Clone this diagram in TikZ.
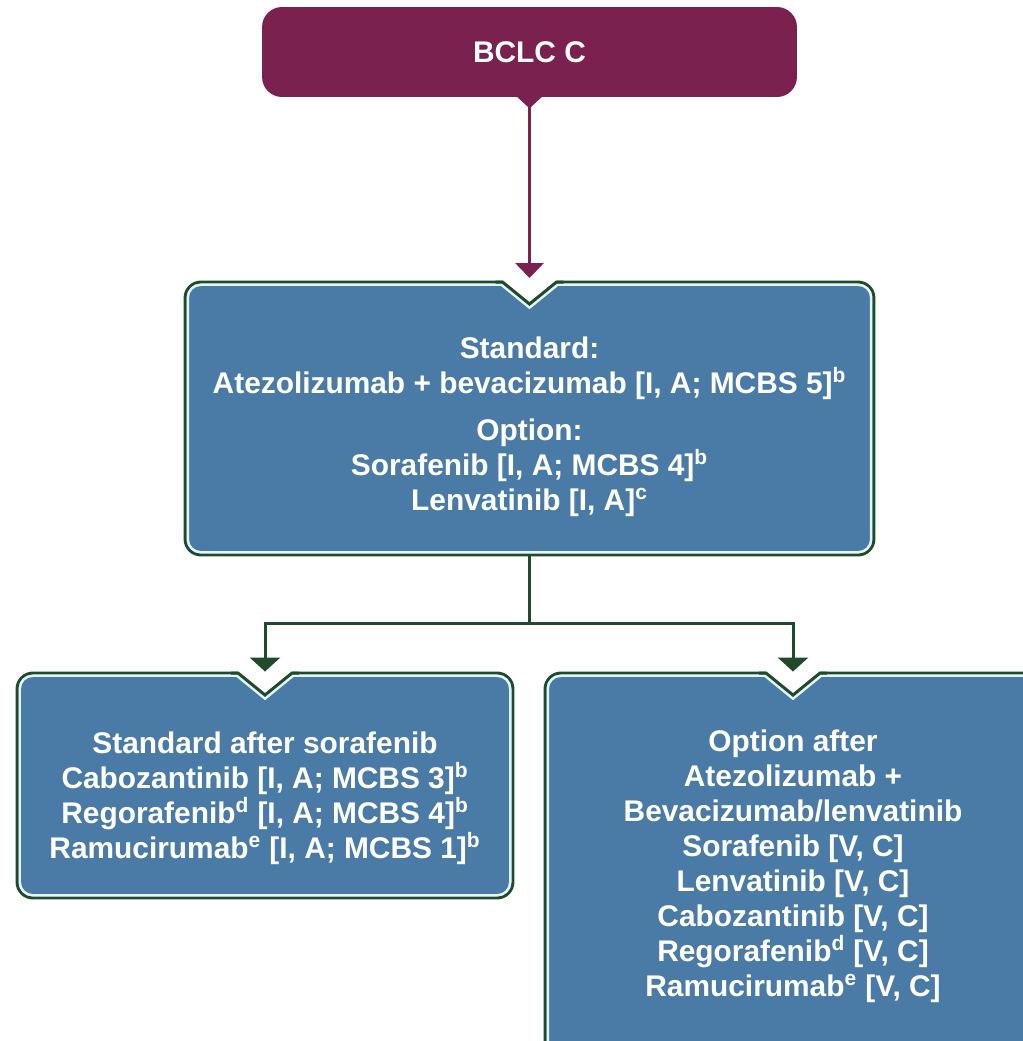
\documentclass[tikz,border=0pt]{standalone}
\usepackage{fontspec}
\setmainfont{Liberation Sans}
\usepackage{tikz}
\usetikzlibrary{calc,arrows.meta}
\definecolor{BCLCMaroon}{HTML}{7B2150}
\definecolor{PanelBlue}{HTML}{4A7BA6}
\definecolor{PanelGreen}{HTML}{1F4A2C}
\definecolor{PanelRim}{HTML}{E4F5F8}

% light rim inside the green border
\newcommand{\panelrim}[1]{%
  \draw[PanelRim, line width=0.05cm, rounded corners=0.26cm]
    ($(#1.north west)+(4.2,4.2)$) rectangle ($(#1.south east)+(-4.2,-4.2)$);}
% V notch cut into the top edge
\newcommand{\panelnotch}[1]{%
  \coordinate (nt) at ($(#1.north)+(0,1.5)$);
  \fill[white] ($(nt)+(-27,-3)$) -- ($(nt)+(27,-3)$) -- ($(nt)+(27,0)$)
    -- ($(nt)+(0,22)$) -- ($(nt)+(-27,0)$) -- cycle;
  \fill[PanelRim] ($(nt)+(-27,0)$) -- ($(nt)+(0,22)$) -- ($(nt)+(27,0)$)
    -- ($(nt)+(28.5,4)$) -- ($(nt)+(0,27.2)$) -- ($(nt)+(-28.5,4)$) -- cycle;
  \draw[PanelGreen, line width=0.06cm, line join=miter] ($(nt)+(-34,0)$) -- ($(nt)+(-27,0)$)
    -- ($(nt)+(0,22)$) -- ($(nt)+(27,0)$) -- ($(nt)+(34,0)$);}

\begin{document}
\begin{tikzpicture}[x=0.02cm, y=-0.02cm,
                    every node/.style={font=\bfseries\fontsize{17pt}{19.9pt}\selectfont,
                                       text=white, align=center},
                    stage/.style={fill=BCLCMaroon, rounded corners=0.4cm,
                                  minimum width=10.7cm, minimum height=1.8cm},
                    panel/.style={fill=PanelBlue, draw=PanelGreen, line width=0.06cm,
                                  rounded corners=0.32cm},
                    maroonline/.style={draw=BCLCMaroon, line width=0.065cm,
                                       -{Triangle[width=0.56cm, length=0.3cm]}},
                    greenline/.style={draw=PanelGreen, line width=0.06cm}]
  \useasboundingbox (0,0) rectangle (1022,1041);
  \clip (-10,-10) rectangle (1032,1051);
  \fill[white] (-10,-10) rectangle (1032,1051);

  \node[stage] (bclc) at (529.5,52) {BCLC C};
  \node[panel, minimum width=13.78cm, minimum height=5.46cm] (first) at (529.5,418.5)
    {\rule{0pt}{21.5pt}Standard:\\ Atezolizumab + bevacizumab [I, A; MCBS 5]\textsuperscript{b}\\[0.24cm]
     Option:\\ Sorafenib [I, A; MCBS 4]\textsuperscript{b}\\ Lenvatinib [I, A]\textsuperscript{c}};
  \node[panel, minimum width=9.92cm, minimum height=4.5cm] (second) at (265,785.5)
    {\rule{0pt}{27pt}Standard after sorafenib\\ Cabozantinib [I, A; MCBS 3]\textsuperscript{b}\\
     Regorafenib\textsuperscript{d} [I, A; MCBS 4]\textsuperscript{b}\\
     Ramucirumab\textsuperscript{e} [I, A; MCBS 1]\textsuperscript{b}};
  \node[panel, minimum width=9.92cm, minimum height=7.74cm] (third) at (793,866.5)
    {Option after\\ Atezolizumab +\\ Bevacizumab/lenvatinib\\ Sorafenib [V, C]\\
     Lenvatinib [V, C]\\ Cabozantinib [V, C]\\ Regorafenib\textsuperscript{d} [V, C]\\
     Ramucirumab\textsuperscript{e} [V, C]};

  \panelrim{first}
  \panelrim{second}
  \panelrim{third}
  \panelnotch{first}
  \panelnotch{second}
  \panelnotch{third}

  % pointer under the stage box
  \fill[BCLCMaroon] ($(bclc.south)+(-13,-1)$) -- ($(bclc.south)+(13,-1)$)
    -- ($(bclc.south)+(0,11)$) -- cycle;
  \draw[maroonline, shorten >=0.05cm] (bclc.south) -- (first.north);

  \coordinate (split) at (529.5,623);
  \draw[greenline] (first.south) -- (split);
  \draw[greenline, -{Triangle[width=0.6cm, length=0.28cm]}] (split) -| (second.north);
  \draw[greenline, -{Triangle[width=0.6cm, length=0.28cm]}] (split) -| (third.north);
\end{tikzpicture}
\end{document}
